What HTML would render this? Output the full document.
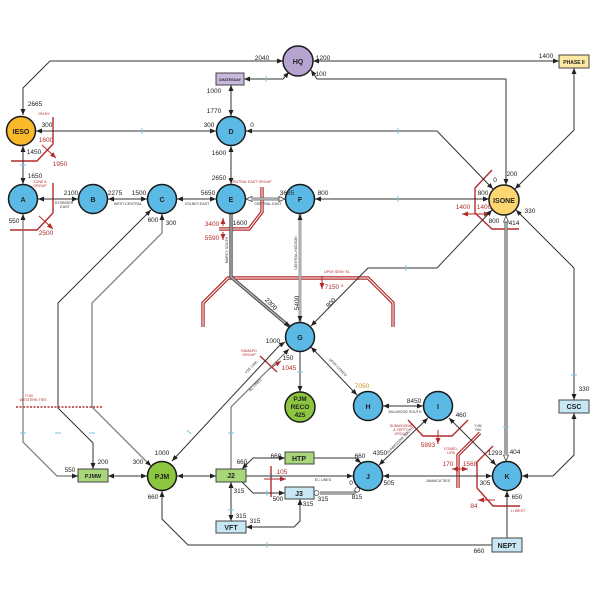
<!DOCTYPE html>
<html><head><meta charset="utf-8">
<style>
html,body{margin:0;padding:0;background:#fff}
svg{display:block}
text{font-family:"Liberation Sans",Arial,sans-serif}
</style></head>
<body>
<svg width="600" height="600" viewBox="0 0 600 600" xmlns="http://www.w3.org/2000/svg">
<defs>
<marker id="a" viewBox="0 0 6 5" refX="6" refY="2.5" markerWidth="6" markerHeight="5" markerUnits="userSpaceOnUse" orient="auto-start-reverse"><path d="M0,0L6,2.5L0,5z" fill="#222"/></marker>
<marker id="r" viewBox="0 0 6 5" refX="6" refY="2.5" markerWidth="6" markerHeight="5" markerUnits="userSpaceOnUse" orient="auto-start-reverse"><path d="M0,0L6,2.5L0,5z" fill="#b32b2b"/></marker>
<marker id="h" viewBox="0 0 7 6" refX="6.5" refY="3" markerWidth="7" markerHeight="6" markerUnits="userSpaceOnUse" orient="auto-start-reverse"><path d="M0.5,0.5L6.5,3L0.5,5.5z" fill="#fff" stroke="#444" stroke-width="0.8"/></marker>
<marker id="o" viewBox="0 0 6 6" refX="5.5" refY="3" markerWidth="6" markerHeight="6" markerUnits="userSpaceOnUse" orient="auto-start-reverse"><circle cx="3" cy="3" r="2.4" fill="#fff" stroke="#444" stroke-width="0.8"/></marker>
</defs>

<!-- red boundaries -->
<g fill="none" stroke="#b32b2b" stroke-width="1.4">
<path d="M53,117V144L37,161H11"/>
<path d="M53,183V213L37,230H10"/>
<path d="M492,170L475,188V213L492,229H519"/>
<path d="M408,420L423,436H452L468,420"/>
<path d="M493,446L477,462V488L493,506H520"/>
<path d="M260,356L277,372"/>
<path d="M271,466V497"/>
</g>
<g fill="none" stroke="#b32b2b" stroke-width="3.4">
<path d="M262,187V212L249,229H219"/>
<path d="M203,327V303L228,278H368L393,303V327"/>
<path d="M480,433L458,455V488"/>
</g>
<g fill="none" stroke="#fff" stroke-width="1">
<path d="M262,187V212L249,229H219"/>
<path d="M203,327V303L228,278H368L393,303V327"/>
<path d="M480,433L458,455V488"/>
</g>
<path d="M16,407H102" stroke="#b32b2b" stroke-width="1.4" stroke-dasharray="2,1.5" fill="none"/>
<g fill="none" stroke="#b32b2b" stroke-width="1">
<path d="M42,145L56,158" marker-end="url(#r)"/>
<path d="M39,216L53,229" marker-end="url(#r)"/>
<path d="M223,226V218" marker-end="url(#r)"/>
<path d="M223,232V240" marker-end="url(#r)"/>
<path d="M462,214H490" marker-start="url(#r)" marker-end="url(#r)"/>
<path d="M322,276V289" marker-end="url(#r)"/>
<path d="M438,430V444" marker-end="url(#r)"/>
<path d="M452,469H468" marker-start="url(#r)" marker-end="url(#r)"/>
<path d="M495,500H478" marker-end="url(#r)"/>
<path d="M268,370L281,361" marker-end="url(#r)"/>
<path d="M264,479H286" marker-end="url(#r)"/>
</g>

<!-- double lines -->
<g fill="none">
<path d="M231,214V277L290,327" stroke="#555" stroke-width="3.4"/>
<path d="M231,214V277L290,327" stroke="#ccc" stroke-width="1"/>
<path d="M300,214V322" stroke="#888" stroke-width="2.8"/>
<path d="M300,214V322" stroke="#eee" stroke-width="0.8"/>
<path d="M506,222V454" stroke="#666" stroke-width="3.2"/>
<path d="M506,222V454" stroke="#ddd" stroke-width="1"/>
<path d="M253,199H279" stroke="#777" stroke-width="3"/>
<path d="M253,199H279" stroke="#ddd" stroke-width="1"/>
<path d="M320,493H354L358,489" stroke="#666" stroke-width="3"/>
<path d="M320,493H354L358,489" stroke="#ddd" stroke-width="1"/>
</g>
<g fill="none" stroke="#444" stroke-width="0.6">
<path d="M506,216V461" marker-start="url(#h)" marker-end="url(#h)" stroke-opacity="0"/>
<path d="M246,199H285" marker-start="url(#h)" marker-end="url(#h)" stroke-opacity="0"/>
<path d="M314,493H354L359,488" marker-start="url(#o)" marker-end="url(#o)" stroke-opacity="0"/>
<path d="M231,214V277L290,327" marker-end="url(#a)" stroke-opacity="0"/>
<path d="M300,214V322" marker-start="url(#a)" marker-end="url(#a)" stroke-opacity="0"/>
</g>

<!-- connectors -->
<g fill="none" stroke="#333" stroke-width="1">
<path d="M283,61H50L23,88V115" marker-start="url(#a)" marker-end="url(#a)"/>
<path d="M313,61H559" marker-start="url(#a)" marker-end="url(#a)"/>
<path d="M311,70L317,79H506V185" marker-start="url(#a)" marker-end="url(#a)"/>
<path d="M244,79H283L289,72" marker-start="url(#a)" marker-end="url(#a)"/>
<path d="M231,85V116" marker-start="url(#a)" marker-end="url(#a)"/>
<path d="M36,131H216" marker-start="url(#a)" marker-end="url(#a)"/>
<path d="M246,131H437L493,189" marker-start="url(#a)" marker-end="url(#a)"/>
<path d="M231,146V184" marker-start="url(#a)" marker-end="url(#a)"/>
<path d="M23,146V184" marker-start="url(#a)" marker-end="url(#a)"/>
<path d="M38,199H78" marker-start="url(#a)" marker-end="url(#a)"/>
<path d="M108,199H147" marker-start="url(#a)" marker-end="url(#a)"/>
<path d="M177,199H216" marker-start="url(#a)" marker-end="url(#a)"/>
<path d="M315,199H489" marker-start="url(#a)" marker-end="url(#a)"/>
<path d="M574,68V130L515,189" marker-start="url(#a)" marker-end="url(#a)"/>
<path d="M492,210L437,268H368L311,326" marker-start="url(#a)" marker-end="url(#a)"/>
<path d="M516,210L574,268V400" marker-start="url(#a)" marker-end="url(#a)"/>
<path d="M574,413V455L553,476H522" marker-start="url(#a)" marker-end="url(#a)"/>
<path d="M507,491V538" marker-start="url(#a)"/>
<path d="M492,545H188L162,519V491" marker-end="url(#a)"/>
<path d="M300,352V392" marker-end="url(#a)"/>
<path d="M311,347L357,395" marker-start="url(#a)" marker-end="url(#a)"/>
<path d="M383,406H423" marker-start="url(#a)" marker-end="url(#a)"/>
<path d="M379,465L428,418" marker-start="url(#a)" marker-end="url(#a)"/>
<path d="M449,418L496,465" marker-start="url(#a)" marker-end="url(#a)"/>
<path d="M383,476H492" marker-start="url(#a)" marker-end="url(#a)"/>
<path d="M177,476H216" marker-start="url(#a)" marker-end="url(#a)"/>
<path d="M108,476H147" marker-start="url(#a)" marker-end="url(#a)"/>
<path d="M151,210L58,303V408L93,443V469" marker-start="url(#a)" marker-end="url(#a)"/>
<path d="M285,342L279,346L172,461" marker-start="url(#a)" marker-end="url(#a)"/>
<path d="M242,469L253,458H285" marker-start="url(#a)" marker-end="url(#a)"/>
<path d="M314,458H355L361,463" marker-end="url(#a)"/>
<path d="M246,476H353" marker-end="url(#a)"/>
<path d="M242,482L253,493H285" marker-end="url(#a)"/>
<path d="M300,499V521L294,527H246" marker-start="url(#a)" marker-end="url(#a)"/>
<path d="M231,482V521" marker-start="url(#a)" marker-end="url(#a)"/>
</g>
<g fill="none" stroke="#777" stroke-width="1.2">
<path d="M23,214V442L57,476H78" marker-start="url(#a)" marker-end="url(#a)"/>
<path d="M231,469V407L289,349" marker-end="url(#a)"/>
</g>
<path d="M162,214V233L92,303V407L151,466" fill="none" stroke="#888" stroke-width="1.4" marker-start="url(#a)" marker-end="url(#a)"/>

<!-- blue ticks -->
<g stroke="#7cc3e2" stroke-width="1">
<path d="M142,128V134M398,128V134M398,196V202M266,76V82M406,265V271M267,542V548M270,473V479M267,490V496"/>
<path d="M20,165H26M20,433H26M55,433H61M89,433H95M228,433H234M228,510H234M297,372H303M503,427H509M571,375H577"/>
<path d="M187,430L191,434"/>
</g>

<!-- nodes -->
<g stroke="#1a1a1a" stroke-width="1.5">
<circle cx="298" cy="61" r="15" fill="#b6a3cf"/>
<circle cx="21" cy="131" r="14.5" fill="#f9b92b"/>
<circle cx="504" cy="200" r="15" fill="#fcd670"/>
<circle cx="231" cy="131" r="14.5" fill="#5bb9e6"/>
<circle cx="23" cy="199" r="14.5" fill="#5bb9e6"/>
<circle cx="93" cy="199" r="14.5" fill="#5bb9e6"/>
<circle cx="162" cy="199" r="14.5" fill="#5bb9e6"/>
<circle cx="231" cy="199" r="14.5" fill="#5bb9e6"/>
<circle cx="300" cy="199" r="14.5" fill="#5bb9e6"/>
<circle cx="300" cy="337" r="14.5" fill="#5bb9e6"/>
<circle cx="300" cy="407" r="15" fill="#8cc63f"/>
<circle cx="368" cy="406" r="14.5" fill="#5bb9e6"/>
<circle cx="438" cy="406" r="14.5" fill="#5bb9e6"/>
<circle cx="368" cy="476" r="14.5" fill="#5bb9e6"/>
<circle cx="507" cy="476" r="14.5" fill="#5bb9e6"/>
<circle cx="162" cy="476" r="14.5" fill="#8cc63f"/>
</g>
<g stroke="#444" stroke-width="1">
<rect x="216" y="73" width="28" height="12" fill="#c7b8dc"/>
<rect x="559" y="55" width="30" height="13" fill="#fde9a3"/>
<rect x="559" y="400" width="30" height="13" fill="#c8e7f5"/>
<rect x="492" y="538" width="30" height="14" fill="#c8e7f5"/>
<rect x="78" y="469" width="30" height="13" fill="#a9d67a"/>
<rect x="216" y="469" width="30" height="13" fill="#a9d67a"/>
<rect x="285" y="452" width="29" height="12" fill="#a9d67a"/>
<rect x="285" y="487" width="29" height="12" fill="#c8e7f5"/>
<rect x="216" y="521" width="30" height="12" fill="#c8e7f5"/>
</g>

<!-- node labels -->
<g font-weight="bold" font-size="7" text-anchor="middle" fill="#222">
<text x="298" y="64">HQ</text>
<text x="21" y="134">IESO</text>
<text x="504" y="203">ISONE</text>
<text x="231" y="134">D</text>
<text x="23" y="202">A</text>
<text x="93" y="202">B</text>
<text x="162" y="202">C</text>
<text x="231" y="202">E</text>
<text x="300" y="202">F</text>
<text x="300" y="340">G</text>
<text x="368" y="409">H</text>
<text x="438" y="409">I</text>
<text x="368" y="479">J</text>
<text x="507" y="479">K</text>
<text x="162" y="479">PJM</text>
<text x="300" y="401" font-size="6.5">PJM</text>
<text x="300" y="409" font-size="6.5">RECO</text>
<text x="300" y="417" font-size="6.5">425</text>
<text x="574" y="64" font-size="5">PHASE II</text>
<text x="574" y="409">CSC</text>
<text x="507" y="548">NEPT</text>
<text x="93" y="478" font-size="5.5">PJMW</text>
<text x="231" y="478">J2</text>
<text x="299" y="461">HTP</text>
<text x="299" y="496">J3</text>
<text x="231" y="530">VFT</text>
<text x="230" y="81" font-size="3.6">CHATEGUAY</text>
</g>

<!-- numbers -->
<g font-size="6.5" text-anchor="middle" fill="#222">
<text x="262" y="60">2040</text>
<text x="323" y="60">1200</text>
<text x="321" y="76">100</text>
<text x="546" y="58">1400</text>
<text x="35" y="106">2665</text>
<text x="214" y="93">1000</text>
<text x="214" y="113">1770</text>
<text x="209" y="127">300</text>
<text x="252" y="127">0</text>
<text x="47" y="127">300</text>
<text x="34" y="154">1450</text>
<text x="35" y="178">1650</text>
<text x="219" y="155">1600</text>
<text x="219" y="180">2650</text>
<text x="71" y="195">2100</text>
<text x="115" y="195">2275</text>
<text x="139" y="195">1500</text>
<text x="208" y="195">5650</text>
<text x="287" y="195">3685</text>
<text x="323" y="195">800</text>
<text x="240" y="225">1600</text>
<text x="14" y="223">550</text>
<text x="153" y="222">600</text>
<text x="171" y="225">300</text>
<text x="495" y="182">0</text>
<text x="512" y="176">200</text>
<text x="483" y="195">800</text>
<text x="494" y="223">800</text>
<text x="514" y="225">414</text>
<text x="530" y="213">330</text>
<text x="584" y="391">330</text>
<text x="273" y="343">1000</text>
<text x="288" y="360">150</text>
<text x="162" y="455">1000</text>
<text x="138" y="464">300</text>
<text x="103" y="464">200</text>
<text x="70" y="472">550</text>
<text x="153" y="499">660</text>
<text x="414" y="403">8450</text>
<text x="461" y="417">460</text>
<text x="380" y="455">4350</text>
<text x="242" y="464">660</text>
<text x="276" y="458">660</text>
<text x="360" y="458">660</text>
<text x="351" y="485">0</text>
<text x="389" y="485">505</text>
<text x="239" y="493">315</text>
<text x="278" y="501">500</text>
<text x="323" y="501">315</text>
<text x="357" y="499">815</text>
<text x="308" y="506">315</text>
<text x="241" y="518">315</text>
<text x="255" y="523">315</text>
<text x="495" y="455">1293</text>
<text x="515" y="454">404</text>
<text x="485" y="485">305</text>
<text x="517" y="499">650</text>
<text x="479" y="553">660</text>
<text x="271" y="306" transform="rotate(45 271 304)">2300</text>
<text x="297" y="305" transform="rotate(-90 297 303)">5400</text>
<text x="331" y="305" transform="rotate(-45 331 303)">800</text>
</g>
<text x="362" y="388" font-size="6.5" text-anchor="middle" fill="#d08a1c">7050</text>

<!-- red labels -->
<g font-size="6.5" text-anchor="middle" fill="#b32b2b">
<text x="46" y="142">1600</text>
<text x="60" y="166">1950</text>
<text x="46" y="235">2500</text>
<text x="212" y="226">3400</text>
<text x="212" y="240">5590</text>
<text x="463" y="209">1400</text>
<text x="484" y="209">1400</text>
<text x="334" y="289">7150 *</text>
<text x="289" y="370">1045</text>
<text x="282" y="474">105</text>
<text x="428" y="447">5893</text>
<text x="448" y="466">170</text>
<text x="470" y="466">1568</text>
<text x="474" y="508">84</text>
</g>
<g font-size="3.6" text-anchor="middle" fill="#b32b2b">
<text x="44" y="115">ON-NY</text>
<text x="40" y="183">ZONE A</text>
<text x="40" y="187">GROUP</text>
<text x="251" y="183">CENTRAL EAST GROUP</text>
<text x="337" y="273">UPNY-SENY EL</text>
<text x="249" y="352">RAMAPO</text>
<text x="249" y="356">GROUP</text>
<text x="29" y="397">PJM</text>
<text x="33" y="401">WESTERN TIES</text>
<text x="401" y="427">DUNWOODIE</text>
<text x="401" y="431">&amp; YEPTO</text>
<text x="401" y="435">GROUP</text>
<text x="451" y="450">CONED-</text>
<text x="451" y="454">LIPA</text>
<text x="518" y="512">LI WEST</text>
</g>
<g font-size="3.6" text-anchor="middle" fill="#333">
<text x="64" y="204">DYSINGER</text>
<text x="65" y="208">EAST</text>
<text x="128" y="205">WEST-CENTRAL</text>
<text x="197" y="205">VOLNEY-EAST</text>
<text x="268" y="205">CENTRAL-EAST</text>
<text x="405" y="413">MILLWOOD SOUTH</text>
<text x="438" y="482">JAMAICA TIES</text>
<text x="323" y="481">EC LINES</text>
<text x="478" y="427">Y49/</text>
<text x="478" y="431">Y50</text>
<text x="228" y="250" transform="rotate(-90 228 250)">MARCY SOUTH</text>
<text x="297" y="253" transform="rotate(-90 297 253)">CENTRAL-HUDSON</text>
<text x="337" y="368" transform="rotate(45 337 368)">UPNY-CONED</text>
<text x="252" y="368" transform="rotate(-45 252 368)">VSE LINE</text>
<text x="256" y="386" transform="rotate(-45 256 386)">AC LINES</text>
<text x="401" y="441" transform="rotate(-45 401 441)">DUNWOODIE SOUTH</text>
</g>
</svg>
</body></html>
